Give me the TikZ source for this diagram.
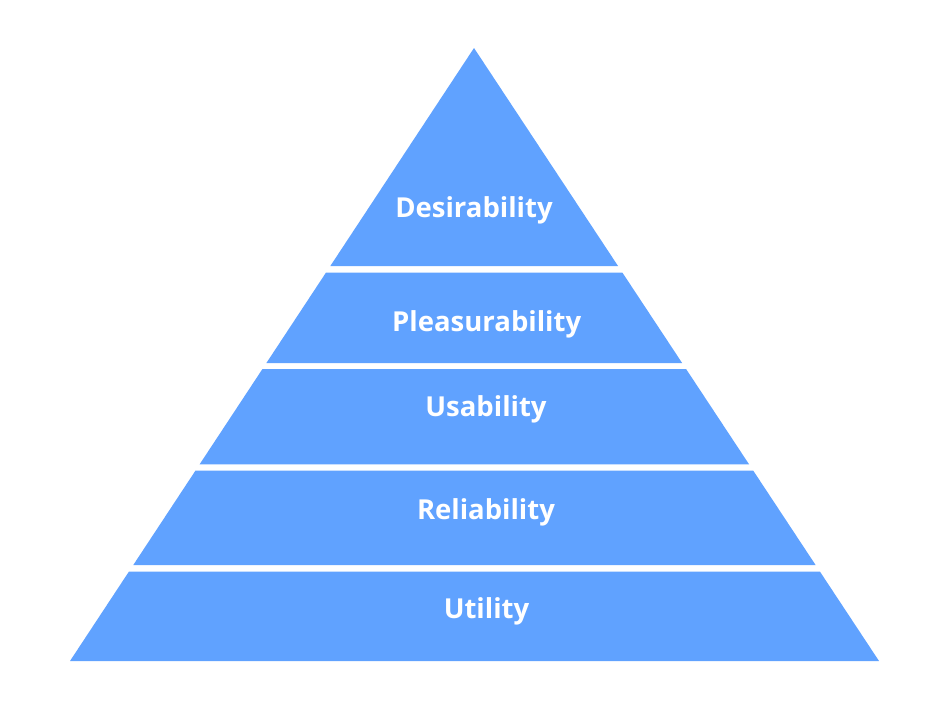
\documentclass[tikz,border=0pt]{standalone}
\usepackage{fontspec}
\setmainfont{Open Sans}
\definecolor{pyr}{RGB}{96,162,255}
\begin{document}
\begin{tikzpicture}[x=1pt,y=-1pt,
  layer/.style={fill=pyr,draw=none},
  lbl/.style={text=white,font=\fontsize{27.5}{33}\selectfont\bfseries,anchor=base,inner sep=0pt}]
\useasboundingbox (0,0) rectangle (949,705);
\fill[white] (0,0) rectangle (949,705);
\def\xl#1{\fpeval{474-404*(#1-48)/613}}
\def\xr#1{\fpeval{474+405*(#1-48)/613}}
\fill[layer] (474,48) -- (\xr{266},266) -- (\xl{266},266) -- cycle;
\fill[layer] (\xl{272.5},272.5) -- (\xr{272.5},272.5) -- (\xr{363},363) -- (\xl{363},363) -- cycle;
\fill[layer] (\xl{369},369) -- (\xr{369},369) -- (\xr{464.3},464.3) -- (\xl{464.3},464.3) -- cycle;
\fill[layer] (\xl{470.7},470.7) -- (\xr{470.7},470.7) -- (\xr{565},565) -- (\xl{565},565) -- cycle;
\fill[layer] (\xl{571.5},571.5) -- (\xr{571.5},571.5) -- (879,661) -- (70,661) -- cycle;
\node[lbl] (l1) at (474,217) {Desirability};
\node[lbl] (l2) at (486.7,331.7) {Pleasurability};
\node[lbl] (l3) at (486,416.7) {Usability};
\node[lbl] (l4) at (486,519.3) {Reliability};
\node[lbl] (l5) at (486.5,618.3) {Utility};
\end{tikzpicture}
\end{document}
